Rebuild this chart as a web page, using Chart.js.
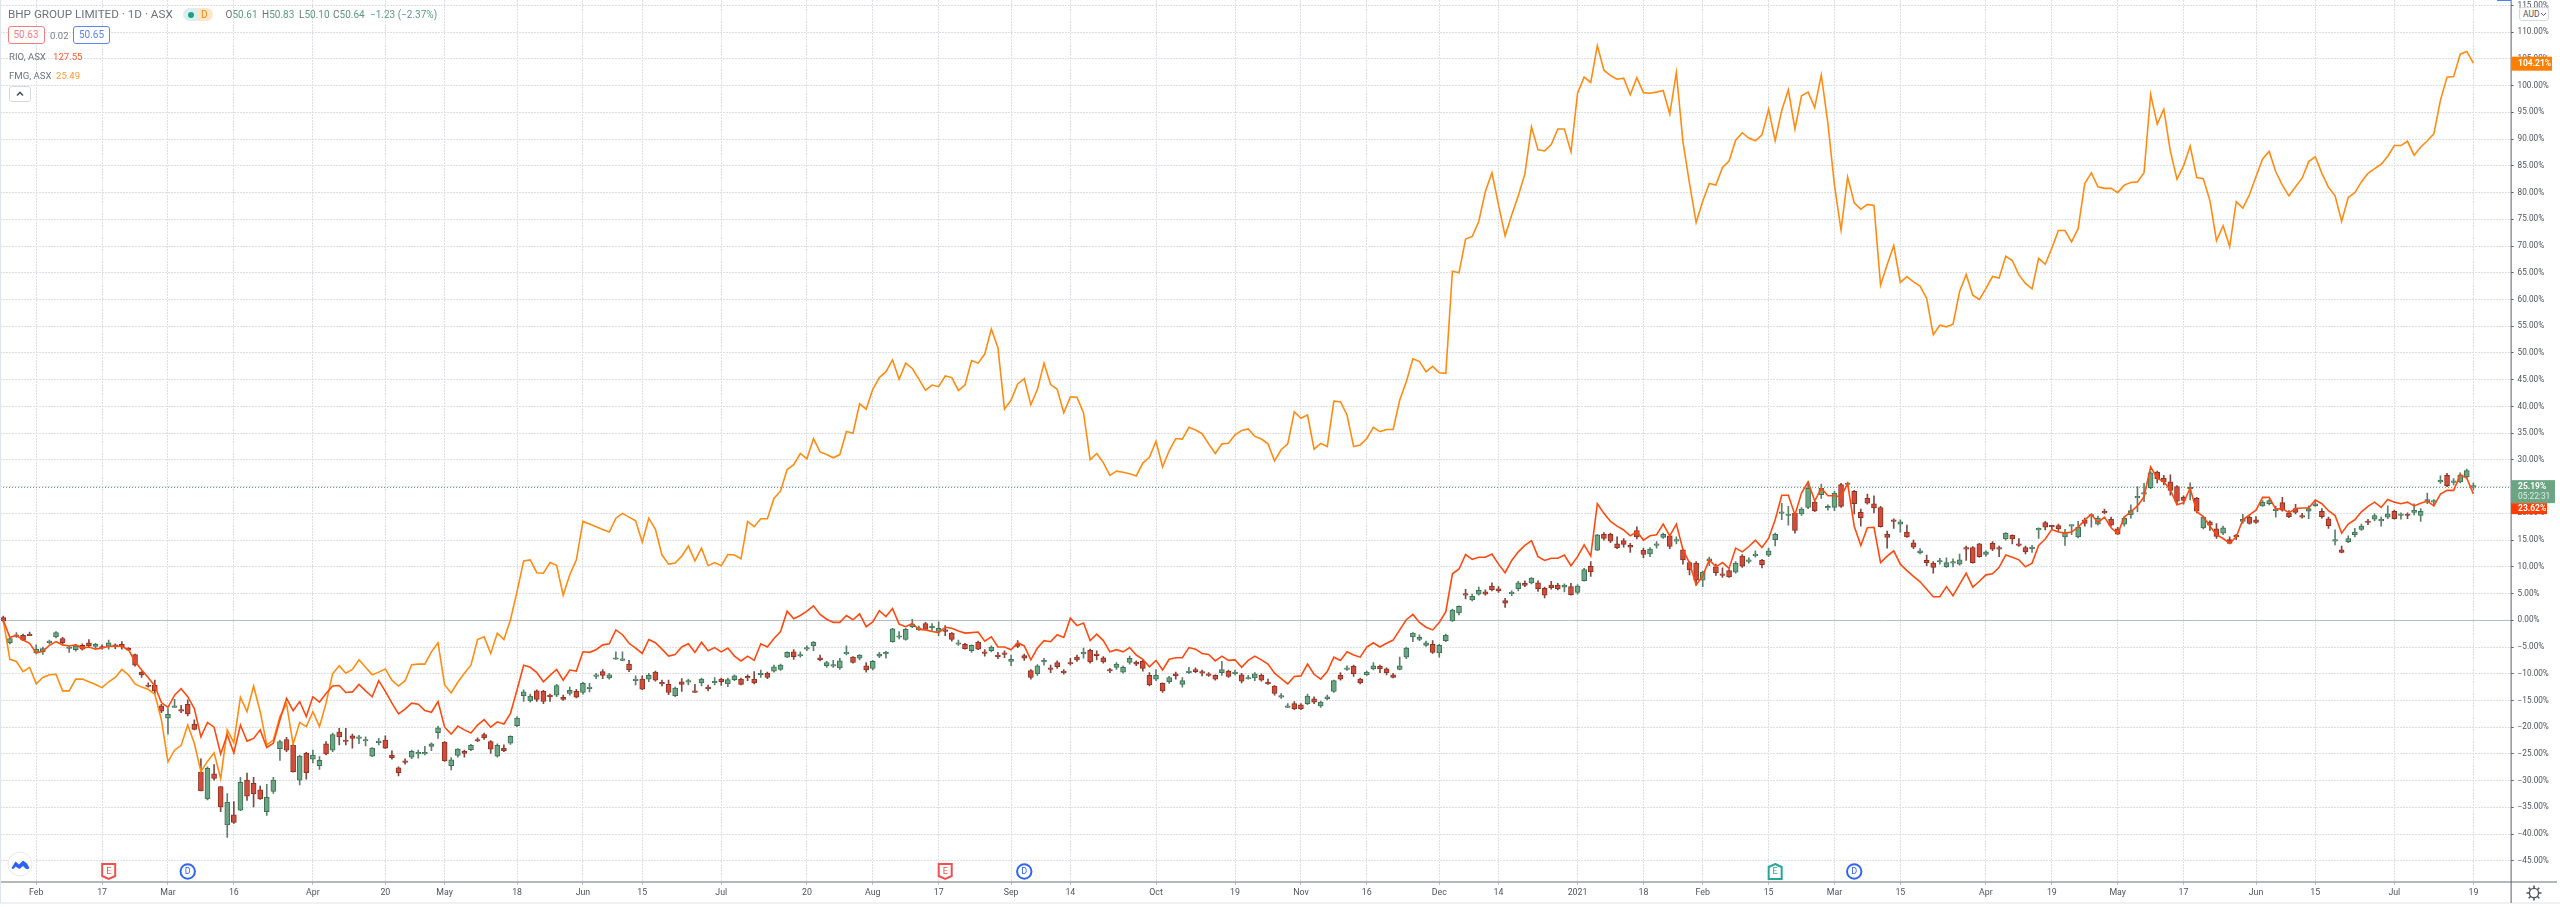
<!DOCTYPE html>
<html>
<head>
<meta charset="utf-8">
<title>BHP vs RIO vs FMG</title>
<script src="https://cdn.jsdelivr.net/npm/chart.js@4/dist/chart.umd.js"></script>
<style>
  html, body { margin: 0; padding: 0; background: #fff; }
  #wrap { position: relative; width: 2560px; height: 907px; overflow: hidden; font-family: Roboto, sans-serif; }
  canvas { position: absolute; left: 0; top: 0; }
  .t { position: absolute; white-space: nowrap; line-height: 1; }
  .box { position: absolute; box-sizing: border-box; height: 18px; width: 37px; border-radius: 3px; background: #fff; border: 1px solid; font-size: 10px; line-height: 16px; text-align: center; }
  .ohlc { top: 10px; font-size: 10px; color: #5a9a7e; }
  .ohlc b { font-weight: 400; color: #6f727c; }
</style>
</head>
<body>
<div id="wrap">
  <canvas id="chart" width="2560" height="907"></canvas>

  <div class="t" style="left:8px;top:9px;font-size:11.7px;color:#6f727c;">BHP GROUP LIMITED · 1D · ASX</div>
  <div style="position:absolute;left:183px;top:8px;width:15px;height:13px;background:#d8efeb;border-radius:7px 0 0 7px;"></div>
  <div style="position:absolute;left:198px;top:8px;width:15px;height:13px;background:#fde6c8;border-radius:0 7px 7px 0;"></div>
  <div style="position:absolute;left:188px;top:11.5px;width:6px;height:6px;background:#1f9d8b;border-radius:50%;"></div>
  <div class="t" style="left:201px;top:10px;font-size:10px;color:#f08c1c;">D</div>
  <div class="t ohlc" style="left:225.5px;"><b>O</b>50.61</div>
  <div class="t ohlc" style="left:262px;"><b>H</b>50.83</div>
  <div class="t ohlc" style="left:299px;"><b>L</b>50.10</div>
  <div class="t ohlc" style="left:333px;"><b>C</b>50.64</div>
  <div class="t ohlc" style="left:370px;">−1.23 (−2.37%)</div>

  <div class="box" style="left:7.5px;top:26px;border-color:#f77c80;color:#f77c80;">50.63</div>
  <div class="t" style="left:50px;top:31px;font-size:9.5px;color:#7a7d87;">0.02</div>
  <div class="box" style="left:73px;top:26px;border-color:#5b84f5;color:#5b84f5;">50.65</div>

  <div class="t" style="left:9px;top:52px;font-size:9.6px;color:#6f727c;">RIO, ASX</div>
  <div class="t" style="left:53px;top:52px;font-size:9.6px;color:#ff5a2a;">127.55</div>
  <div class="t" style="left:9px;top:70.5px;font-size:9.6px;color:#6f727c;">FMG, ASX</div>
  <div class="t" style="left:56px;top:70.5px;font-size:9.6px;color:#ff9a2e;">25.49</div>
  <div style="position:absolute;left:8.5px;top:86px;width:22px;height:16px;box-sizing:border-box;background:#fff;border:1px solid #d6d8de;border-radius:3px;">
    <svg width="20" height="14" style="position:absolute;left:0;top:0"><path d="M7 8.5 L10 5.5 L13 8.5" fill="none" stroke="#50535e" stroke-width="1.6"/></svg>
  </div>

  <div class="t" style="left:2519px;top:7px;width:30px;height:14px;box-sizing:border-box;background:#fff;border:1px solid #d6d8de;border-radius:3px;font-size:8.5px;line-height:12px;color:#50535e;padding-left:3px;">AUD
    <svg width="7" height="5" style="position:absolute;left:20px;top:4px"><path d="M1 1 L3.5 3.5 L6 1" fill="none" stroke="#50535e" stroke-width="1"/></svg>
  </div>

  <svg width="26" height="26" style="position:absolute;left:7px;top:851px">
    <circle cx="13" cy="13" r="12" fill="#fff" stroke="#e6e8ec"/>
    <path d="M4.5 17 L8.5 10.5 L12 13.5 L16 9.5 L20 12.5 L22.5 17 Q21 19 18.5 17.5 L16 15 L12.5 18 L8.5 15.5 L7 17.5 Q5.5 18.5 4.5 17 Z" fill="#2e62f0"/>
  </svg>
  <svg width="18" height="18" viewBox="0 0 18 18" style="position:absolute;left:2525px;top:884px">
    <circle cx="9" cy="9" r="4.6" fill="none" stroke="#50535e" stroke-width="1.4"/>
    <path d="M9 1.5V4 M9 14V16.5 M1.5 9H4 M14 9H16.5 M3.7 3.7L5.5 5.5 M12.5 12.5L14.3 14.3 M14.3 3.7L12.5 5.5 M5.5 12.5L3.7 14.3" stroke="#50535e" stroke-width="1.6"/>
  </svg>
</div>

<script>
// bar index of each date label on the time axis
const tickBars = [5,15,25,35,47,58,67,78,88,97,109,122,132,142,153,162,175,187,197,207,218,227,239,249,258,268,278,288,301,311,321,331,342,351,363,375];
const tickNames = ["Feb","17","Mar","16","Apr","20","May","18","Jun","15","Jul","20","Aug","17","Sep","14","Oct","19","Nov","16","Dec","14","2021","18","Feb","15","Mar","15","Apr","19","May","17","Jun","15","Jul","19"];

// everything below is percent change from the first bar
const bhpOpen = [
  0.5,-4.2,-3,-2.8,-2.6,-6.1,-5.9,-4.2,-3.1,-3.4,
  -5.2,-5.5,-4.7,-4.2,-4.9,-4.9,-4.9,-4.6,-4.5,-5.2,
  -6.4,-9.7,-12.1,-12.1,-16,-18.3,-16.1,-16.7,-15.7,-19.4,
  -28.4,-33.4,-28.7,-31.1,-38.3,-36.4,-35.5,-29.9,-30.5,-31.7,
  -35.8,-32,-24,-22.3,-23.4,-29.9,-24.9,-26,-27.2,-23.1,
  -24.3,-20.9,-22.4,-21.6,-22.1,-22.4,-25.4,-22.9,-22.4,-25.2,
  -27.6,-26.3,-25.6,-25,-24.9,-23.6,-21,-22.8,-27.2,-25.3,
  -24.5,-24.2,-22.3,-21.4,-22.7,-25.4,-23.9,-23,-19.7,-14.1,
  -15.1,-13.2,-13.3,-14,-14,-14.4,-13.7,-13.3,-13.5,-12.8,
  -10.4,-9.6,-10.8,-7.2,-7.5,-8.2,-11.2,-11,-11,-9.7,
  -11.6,-12,-14.1,-11.5,-11.5,-13.2,-11.7,-12.5,-11.5,-11,
  -11.9,-11.1,-11,-10.5,-11,-10,-9.9,-9.5,-9.2,-6.9,
  -5.9,-6.5,-5.4,-4.8,-7,-8.5,-8.5,-8.9,-6.2,-6.9,
  -7.1,-8.5,-9,-6.7,-6.3,-4,-3.1,-3.6,-1.2,-1.8,
  -0.6,-1.4,-2.1,-1.8,-2.4,-4.3,-4.5,-5.7,-4.1,-5.9,
  -5.7,-6.5,-6.1,-7.7,-4.4,-6.6,-9.4,-10,-7.7,-8.9,
  -7.9,-9.5,-7.9,-6.9,-6.2,-5.6,-6.3,-7,-9.2,-8.8,
  -9.7,-7.9,-7.8,-7.7,-10.3,-11,-11.8,-11.5,-10,-12,
  -9.7,-9.2,-9.6,-10,-10.3,-9.8,-9.5,-10,-10.2,-10.8,
  -10.8,-10.3,-11.6,-12.3,-14.2,-16.1,-15.6,-15.8,-15.6,-14.7,
  -16,-14.7,-13.3,-10.3,-9.1,-8.6,-11,-10.2,-9.1,-8.6,
  -9.1,-10.2,-9.2,-6.9,-3.1,-3.6,-4.7,-4.5,-6.1,-3.8,
  -0.1,1.4,4.9,3.8,4.9,5.3,6.4,5.9,3.7,5,
  5.9,6.9,7,7,6,6.6,6.6,6.2,6.3,5.2,
  7.4,10.1,13.1,16.1,16.1,14.3,14.9,14,16.8,13.1,
  12.4,14,15.5,15.8,14.8,13.2,10.8,10.7,7.5,11.1,
  10,8.7,9.3,9,12,11,12.1,11.2,12.2,15.1,
  20,19.6,20,19.9,21.1,22.1,23.5,21,21.1,25.4,
  25.4,24.1,20.2,22.8,21.8,21.1,16.1,18.8,18,16.5,
  14.5,12.6,11.2,10.7,10.9,10,10.7,10.5,13.6,13.6,
  14.3,12.3,14.4,13.5,15.2,15.9,14.3,13.6,13.4,16.9,
  18.3,17.6,17.7,15.6,17.6,15.6,18.8,19.5,18,20.3,
  18.9,17.1,18,19.7,22.9,23.6,24.8,27.7,26.6,25.9,
  25,23,24.6,22.8,17.3,18.4,17.1,16.3,15.1,15.9,
  18.5,19.3,18.8,21.4,21.8,20.5,22,20,20.9,19.5,
  20.4,21.4,20.4,19,14.8,13.2,14.7,16,17,18.5,
  18.9,18.6,19.3,20.4,19.6,19.8,20.2,19.6,22.1,22.1,
  25.9,27.1,25.8,25.9,26.8,24.9
];
const bhpClose = [
  -0.1,-3.4,-2.7,-3.7,-2.7,-5.4,-5.3,-3.9,-2.3,-4.2,
  -5,-4.8,-5.4,-4.8,-4.5,-5,-4.2,-5,-5,-5.6,
  -8.4,-10.2,-12.3,-13.2,-17,-17.6,-16,-16.8,-17.5,-20.4,
  -31.9,-27.7,-29.6,-34.9,-34,-37.8,-30.3,-32.9,-32.5,-33.4,
  -33.1,-29.9,-22.7,-24.3,-28.3,-25.4,-28.5,-25.2,-26.2,-25,
  -21.4,-21.8,-22.6,-22.1,-21.8,-22.3,-23.9,-22.6,-23.9,-25.7,
  -28.5,-26.5,-24.5,-24.7,-24.7,-23.1,-20.1,-26.3,-26.1,-24.1,
  -24.9,-23.4,-22.4,-22,-24.1,-23.4,-24.4,-21.7,-18.3,-13.4,
  -14.2,-14.8,-15.2,-14.2,-12.2,-14.8,-13.1,-14.4,-11.8,-12.5,
  -10.2,-10.3,-10.2,-7,-7.2,-9.3,-11,-12.9,-10.3,-11.2,
  -11.8,-13.5,-12.7,-12,-11.3,-13.3,-11,-12.7,-11.4,-11.5,
  -11.1,-10.4,-12,-10.8,-11.7,-9.9,-10.7,-8.7,-8.4,-6,
  -6.8,-6.4,-5.1,-4.1,-7.4,-7.9,-8.3,-7.6,-6,-7.9,
  -6.5,-9.3,-7.7,-6.3,-6,-1.6,-2.9,-1.7,-0.7,-1.4,
  -1.7,-1.1,-1.5,-2.1,-3.6,-4.2,-5.3,-4.7,-5.4,-6,
  -5,-6.8,-6.4,-7.3,-4.9,-7.1,-10.7,-8.5,-7.5,-9,
  -8.7,-9.7,-8.1,-7.4,-6,-7.8,-6.6,-7.8,-9.4,-8.2,
  -8.8,-7.1,-8.2,-9,-12.1,-10.3,-13.2,-10.7,-10.4,-11.3,
  -9.5,-9.6,-9.9,-10.3,-11,-9.2,-10.5,-9.7,-11.4,-10.7,
  -10,-11.2,-11.8,-13.7,-14.1,-16,-16.6,-16.6,-14.2,-15.3,
  -15.3,-14.3,-11.3,-11,-8.9,-10,-11.7,-9.7,-8.5,-9.1,
  -9.8,-10.7,-8.5,-5.2,-2.4,-3.2,-4.2,-6,-4.7,-2.8,
  1.9,2.6,4.7,4.5,5.6,4.9,5.7,5.5,3.2,5.1,
  7,6.5,7.9,5.9,4.7,6.1,5.9,6.6,4.8,6.4,
  9.5,9.1,16,15.3,14.8,13.6,14.2,13.7,15.6,12.3,
  13.3,14.3,16.1,13.8,15.1,11.3,9.4,7.5,9,11.5,
  8.9,8.4,8.1,10.7,10.1,11.3,12.3,10.4,13,16.1,
  20.1,19.8,16.8,20.8,24.7,20.5,24.7,21.3,23.8,21.3,
  25.6,21.8,19.2,21.9,21,17.5,15.5,18.5,18.4,15.6,
  13.7,13,10.8,9.9,11.1,10.8,10.9,11.3,13.3,10.8,
  11.9,12.8,13.3,13.3,16.3,15.2,14,12.8,13.7,17,
  17.4,17.5,17.1,16.5,17.7,17.4,18.1,19.6,19.1,20.1,
  17.8,16.1,19.1,20.5,23.1,23.8,27.6,26.5,25.9,24.3,
  22.3,22.4,24.8,20.4,19.3,17.8,15.7,17.3,14.4,15.6,
  18.9,18.1,18.3,22.1,22.4,20.7,20.6,19.4,20.2,19.3,
  20.9,21.8,19.4,17.7,15,12.7,15.3,16.5,17.6,18.3,
  19.6,18.8,19.9,19,19.9,19.6,20.6,20.4,22.6,22.3,
  26.1,25.2,26,27.2,28,25.19
];
const bhpHigh = [
  0.8,-3.3,-2.3,-2.6,-2.2,-4.6,-5,-3.7,-2.1,-3.2,
  -4.8,-4.5,-4.4,-3.6,-4.3,-4.6,-3.7,-4.4,-4,-5.1,
  -6.3,-9.6,-11.7,-11.2,-15.7,-16.5,-14.8,-15.9,-14.9,-18.6,
  -25.9,-27.4,-27,-31.1,-32.4,-33.9,-29.4,-28.6,-29.4,-31,
  -30.7,-29.4,-22.4,-21.9,-23.2,-25.2,-24.7,-24.3,-25.5,-22.7,
  -21.1,-20.2,-20.2,-21.3,-21.5,-21.8,-23.8,-22.1,-21.6,-24.4,
  -27.4,-25.9,-24.3,-24.3,-23.6,-22.9,-19.8,-22.7,-25.7,-24,
  -24.3,-23.2,-22,-21.1,-22.5,-23.1,-23.3,-21.6,-18,-13,
  -13.8,-13,-13.1,-13.8,-12,-14,-12.5,-12.9,-11.6,-11.8,
  -9.9,-9.2,-9.9,-5.9,-5.9,-7.5,-10.4,-10.4,-9.9,-9.5,
  -11.2,-11.2,-12.5,-10.9,-11,-12,-10.8,-12.1,-10.7,-10.8,
  -10.8,-10.2,-10.8,-10.2,-9.6,-9.3,-9.7,-8.4,-8.2,-5.9,
  -5.5,-5.9,-4.8,-4,-6.5,-7.7,-7.5,-7.1,-4.8,-6.8,
  -6.4,-7.9,-7.5,-6,-5.8,-1.5,-2.1,-1.5,0.2,-1.1,
  -0.4,-0.6,-0.3,-1,-2.3,-3.7,-4.3,-4.6,-3.9,-5.5,
  -4.8,-6,-5.7,-6.5,-3.8,-6.3,-9.2,-8.3,-7.1,-8.4,
  -7.6,-9.2,-7.1,-6.5,-5.2,-5.4,-5.7,-6.8,-9,-7.9,
  -8.5,-6.7,-7.6,-7.4,-9.8,-9.2,-11.7,-10.5,-9.7,-10.7,
  -8.8,-8.9,-9.3,-9.8,-10.2,-7.7,-9.3,-9.3,-9.9,-10.3,
  -9.8,-10,-11,-12.2,-13.7,-15.6,-15.2,-15.6,-13.8,-14.3,
  -15.1,-14,-11.2,-9.8,-8.5,-8.4,-10.8,-9.5,-7.9,-8.4,
  -8.9,-9.9,-6.9,-5,-2.3,-2.7,-3.9,-3.8,-4.5,-2.6,
  2.1,2.7,5.8,4.9,6.2,5.7,7,6.3,4.1,5.5,
  7.3,7.4,8,7.4,6.2,7.3,6.9,6.8,6.9,6.7,
  9.7,11,16.1,16.4,16.3,15.6,15.3,14.4,17.5,13.5,
  13.6,14.7,16.3,16,15.6,13.3,11,11,9.2,11.8,
  10.5,9.8,9.5,11,12.3,11.7,13,11.4,13.5,16.3,
  21.9,21.3,20.2,21.1,25.9,22.3,25.5,21.6,24.1,25.6,
  25.8,24.3,20.8,23.6,23.3,21.3,16.7,19,18.8,17.8,
  15,13.4,12.2,11,11.6,11.7,11.5,12.4,13.9,13.8,
  14.4,13,14.7,13.9,16.4,16,15.3,13.9,14,17.3,
  18.5,17.8,18,17,17.8,18.5,19.1,19.9,19.5,20.8,
  19.3,17.4,19.4,21.6,25,25.6,27.8,27.9,27.1,27.2,
  25.2,23.3,25.7,23,19.5,18.6,18.1,17.6,15.6,16.1,
  19.8,19.6,19.4,22.4,22.6,21.3,23,20.5,21.7,20,
  21.4,22.5,20.9,19.3,16.9,13.9,15.8,17.2,18,18.9,
  19.9,19.3,21.4,20.6,20.1,20.1,21.8,20.9,23.8,22.6,
  27,27.5,26.5,27.6,28.3,25.7
];
const bhpLow = [
  -0.3,-4.4,-3.2,-3.8,-2.9,-6.3,-6.4,-4.4,-3.3,-4.4,
  -6,-5.8,-5.6,-5,-5.1,-5.4,-5.4,-5.3,-5.4,-5.7,
  -8.6,-10.7,-12.5,-13.8,-17.3,-21.3,-16.3,-17.3,-17.9,-20.5,
  -31.9,-33.6,-29.9,-35.8,-40.6,-38,-35.6,-33.7,-34.9,-33.5,
  -36.5,-32.4,-26.2,-24.6,-28.4,-30.8,-29.7,-26.7,-27.9,-25.2,
  -24.6,-23.3,-23.3,-23.9,-23.1,-23.5,-25.5,-23.3,-24,-26,
  -29.1,-26.9,-25.9,-25.8,-25.2,-24.4,-22.1,-26.4,-28,-25.6,
  -25.6,-24.4,-22.7,-22.3,-24.9,-25.6,-24.6,-23.2,-19.9,-15.2,
  -15.3,-15.2,-15.6,-15.2,-14.3,-15,-14,-14.5,-13.8,-13.4,
  -10.9,-10.9,-11,-7.3,-7.6,-9.6,-12.1,-13,-11.5,-11.4,
  -12.3,-13.9,-14.3,-13.3,-12.1,-13.5,-12.3,-13.2,-12.1,-12.2,
  -12.4,-11.3,-12.1,-11.3,-11.9,-10.7,-10.9,-9.7,-9.4,-7,
  -7.3,-6.9,-5.7,-5.7,-7.6,-8.8,-8.8,-9.2,-6.5,-8,
  -7.4,-9.7,-9.3,-7,-7.1,-4.1,-3.5,-3.7,-1.4,-1.9,
  -1.8,-1.9,-2.9,-2.9,-3.9,-4.7,-5.4,-6,-5.5,-6.7,
  -5.9,-7.2,-7,-8.5,-5.1,-7.5,-11,-10.3,-8.4,-9.8,
  -9,-10.1,-8.4,-7.7,-7.1,-8,-7.4,-8,-9.8,-9.2,
  -9.9,-8.2,-8.5,-9.5,-12.3,-11.3,-13.5,-11.8,-11,-12.5,
  -10,-9.8,-10.4,-10.5,-11.2,-10.3,-10.7,-10.2,-11.7,-11,
  -11.3,-11.4,-12,-14,-14.6,-16.3,-16.7,-16.7,-15.8,-15.6,
  -16.3,-14.9,-13.5,-11.2,-9.4,-10.5,-11.9,-10.3,-9.3,-9.8,
  -10.2,-10.8,-9.3,-7.2,-4,-3.8,-4.9,-6.2,-6.9,-4,
  -0.2,1,4,3.6,4.7,4.7,5.5,5.2,2.4,4.6,
  5.5,6.3,6.8,5.4,4.2,5.8,5.7,5.3,4.7,4.9,
  7.3,8.2,13,15,14.5,13.4,13.7,12.7,15.2,11.7,
  11.9,13.5,15.3,13.4,14.3,10.5,8.5,6.6,6.3,10.2,
  8.4,8,8,8.8,9.9,10.7,11.8,9.8,11.9,13.9,
  18.8,17.8,16.3,19.6,20.9,20.3,22.8,20.6,20.5,21.1,
  25,19.9,17.6,21.7,20.1,17.4,13.5,17.2,16.5,15.5,
  13.4,12.4,10.2,8.8,10.5,9.9,10,10.3,11.2,10.7,
  11.8,12,13,11.9,15,14.3,13.8,12.4,12.7,15.3,
  16.9,17,16.6,14,16,15.4,17.6,17.4,17.8,19.9,
  17.6,16,17.6,19.1,20.3,22.2,24.6,25.7,25.3,23.4,
  21.6,21.7,22.5,20.1,17.1,16.8,15.3,16,14.3,15.1,
  18.1,18,18.1,21.3,21.6,19.3,20.4,19.2,19.9,19.1,
  19,21.3,19.1,17.2,14.1,12.6,14.5,15.6,16.8,17.9,
  18.6,17.6,19,18.9,18.9,19,19.7,18.5,21.8,21.4,
  25.6,25,25.3,25.7,26.6,24.4
];
const rioSeries = [
  0,-3.2,-2.8,-3.7,-4.3,-6.1,-5.8,-4.7,-4,-4.6,
  -4.8,-4.6,-5.2,-5,-5.4,-5.2,-4.9,-4.8,-4.9,-5.5,
  -7.7,-9.3,-10.7,-12.3,-15.4,-16.3,-14,-12.8,-14.3,-16.5,
  -21.8,-19.1,-20,-25,-21.4,-24.8,-19.6,-22.6,-22.1,-20.5,
  -23.8,-23,-18.6,-14.6,-16.9,-15.2,-18,-14.3,-15.3,-13.7,
  -12.3,-12.2,-13.5,-13.4,-12,-13.2,-14.3,-11.3,-13.3,-15.5,
  -17.5,-16.6,-15.5,-15.7,-16.9,-17.2,-15.2,-20,-21.3,-19.8,
  -20.5,-21.1,-19.6,-18.6,-20,-19,-19.4,-17.4,-13,-8.4,
  -8.8,-9.8,-11.5,-10.3,-9.2,-11.2,-9.3,-9.5,-5.9,-6,
  -5.5,-4.6,-4.4,-1.8,-2.7,-4.3,-5.2,-6.2,-3.6,-4.2,
  -5.4,-6.7,-6.4,-5,-4.4,-6,-4.1,-5.7,-5.1,-5.9,
  -5.2,-6.7,-7.6,-6.7,-7.5,-4.4,-5,-3.4,-2.1,1.7,
  0.3,0.9,1.7,2.7,1.1,0.2,-0.4,-0.4,0.9,0.1,
  1.2,-1.2,-0.3,1.8,0.7,2.2,-0.7,-1.2,-0.6,-1.7,
  -1.8,-2.1,-2.3,-1.3,-1.5,-2,-2.4,-2.3,-2.2,-3.9,
  -3.1,-5,-5,-5.5,-4.2,-4.8,-7.4,-5.2,-3.8,-4,
  -2.7,-3.2,0.4,-1,-0.5,-3.8,-2.6,-3.8,-5.9,-5.5,
  -5.9,-5.1,-6.5,-7.3,-8.7,-7.5,-9.3,-7.3,-7,-7,
  -5.1,-5.4,-6.2,-6.4,-7.6,-6.7,-7.5,-7.4,-8.8,-7.5,
  -6.7,-7.4,-8.2,-9.9,-10.9,-11.9,-10.5,-10.4,-8.2,-10.1,
  -11,-9.6,-6.9,-7.5,-5.9,-6.5,-6.9,-5,-4.2,-5,
  -4.3,-3.7,-1.8,0.1,1.1,-0.4,-1.3,-1.8,-0.4,1.6,
  8.7,9.6,12.3,11.4,11.8,11.8,12.4,10.5,8.9,11.2,
  12.8,14,14.9,11.9,11.2,11.6,11.6,12.2,10.2,11.9,
  14.1,12,21.8,20,18.5,17.6,16.9,15.8,16.6,15,
  15.8,16,18,15.8,18,13.2,10.7,6.6,8.3,11.3,
  10,10.8,9.7,13.5,12.8,13.8,15,13.6,15.3,18.8,
  23.4,23.4,19.7,23.8,25.9,22.3,24.7,23.3,23.3,23.1,
  25.6,17.6,14,17.3,17.4,10.8,12,13,10.5,9.3,
  8.2,7.2,5.8,4.4,4.4,6.3,4.6,6.7,8.8,6.2,
  7.3,8.5,8.7,9.9,12.2,11.8,11.3,10,10.7,14,
  15.2,17,16.5,16.3,16.5,17.4,18.8,19.8,18.3,19.3,
  17.3,16.2,19.3,20.3,21.4,23.1,28.7,26.6,25.9,24.4,
  21.6,22,24.7,20.3,19.4,17.6,16,15.3,14.4,15.6,
  18.8,19.7,20.6,23,23,20.8,20.9,20.1,20.9,21,
  21,22.5,21.8,20.5,19.6,16.3,18,18.8,20.3,21.3,
  22.1,21.1,22.6,22.1,21.8,22.1,21.4,21.9,22.3,21.4,
  23.6,24.3,24.3,27.2,26.6,23.62
];
const fmgSeries = [
  0,-7.3,-7.7,-9.6,-8.8,-11.9,-10.7,-10.2,-10.1,-13.2,
  -13.2,-11,-11,-11.5,-12,-12.6,-11.5,-10.7,-9.2,-10.2,
  -11.9,-12.5,-12.9,-13.8,-18.6,-26.5,-24.3,-23.4,-19.6,-23,
  -28.3,-26.4,-24.8,-29.6,-20.5,-22.9,-14.4,-17.1,-12.3,-17.1,
  -23.3,-22.4,-18,-15.6,-23.2,-19.1,-19.9,-17.1,-19.9,-15.5,
  -10,-8.5,-9.9,-9.2,-7.4,-8.8,-10.2,-9.7,-9.1,-11.2,
  -12.3,-11.3,-8.3,-8.2,-8.2,-5.9,-4.2,-12.1,-13.6,-11.6,
  -9.9,-8.4,-3.6,-3.1,-6.2,-2.4,-3.6,0.1,5.4,11.1,
  11.3,8.9,8.8,10.8,10.3,4.7,8.5,11.3,18.5,18,
  17.5,17,16.5,19.1,20,19.3,18.6,14.6,19.1,17,
  12.2,10.5,10.7,12,13.9,11.1,13.5,10.2,10.8,10.2,
  12.3,12.2,11.5,18.5,17.5,19,19,22.8,24.2,28.2,
  29.1,31.2,30.2,34,31.5,31,30.4,31,35.3,35,
  40.5,39.5,43.2,45.4,46.5,48.7,45.1,48.1,47.1,45.1,
  43,44,43.7,45.7,45.4,43,44,48.6,48.1,49.8,
  54.5,51,39.5,41.2,44.2,45.2,40.3,43.2,48.1,44.1,
  43.2,38.8,41.8,41.7,38.8,30,31.2,29.5,27.1,27.9,
  27.7,27.4,27,29.4,30.5,33.5,28.7,31.7,34,33.9,
  36.1,35.6,34.9,33,31.2,33,33.1,34.7,35.5,35.8,
  34.4,33.9,33,29.8,31.9,33,39,37.8,38.4,32,
  33.1,32.5,41,40.9,38.4,32.5,32.8,34,36.1,35.3,
  35.7,35.7,41.2,44.6,48.9,48.4,46.5,47.5,46.3,46.2,
  65.3,65,71.3,71.8,74.6,80.2,83.7,77.7,71.9,75.8,
  79.4,83.5,92.3,88,87.8,89,91.9,91.9,87.6,98.6,
  101.6,100.6,107.5,102.9,101.9,101.2,101.4,98.3,101.5,98.7,
  98.6,98.8,99.1,94.7,102.5,89.5,81.7,74.4,78.4,81.7,
  81.4,84.7,85.9,89.8,91.2,90.2,89.7,90.8,95.6,89.7,
  95.4,99.2,91.9,98.1,98.8,95.9,102,93,81.4,73,
  82.9,78.1,76.9,77.8,77.6,62.7,66.5,70.1,63.2,64.3,
  63.3,62.5,60.2,53.4,55.2,54.9,55.4,61.5,64.7,60.8,
  60,62.1,64.3,64,68.1,67.3,64.6,63,62,67.7,
  66.6,69.6,72.9,72.9,70.8,73.3,81.7,83.7,81.1,80.8,
  80.8,80,81.4,81.9,82,83.7,98.4,92.8,95.6,87.7,
  82.5,85,88.7,82.8,82.6,78.5,71,73.8,69.9,78.3,
  77.1,79.6,83,86.3,87.7,83.9,81.4,79.4,81.1,82.7,
  85.8,86.7,83.6,81,79.4,74.6,79.1,80,82,83.6,
  84.5,85.3,86.8,88.8,88.8,89.6,87,88.5,89.7,91,
  97.3,101.6,101.7,105.9,106.4,104.21
];

// last-price tags on the right axis
const mainLast = 25.0;
const mainLastText = "25.19%";
const mainCountdown = "05:22:31";
const rioLastText = "23.62%";
const fmgLast = 104.21;
const fmgLastText = "104.21%";

// event flags under the candles
const earningsBars = [16, 143, 269];
const earningsUp = [false, false, true];
const dividendBars = [28, 155, 281];

const UP_FILL = "#6ba583", DOWN_FILL = "#d04d3c";
const UP_LINE = "#3c7355", DOWN_LINE = "#8e3324";
const UP_WICK = "#5f7f6e", DOWN_WICK = "#7d4a42";
const RIO_COLOR = "#ff4a0f", FMG_COLOR = "#ff8c12";
const GRID_COLOR = "#dddfe5";
const LABEL_COLOR = "#50535e";
const FONT = 'Roboto, sans-serif';

const isUp = bhpClose.map((c, i) => c >= bhpOpen[i]);

const candleWicks = bhpHigh.map((h, i) => ({ x: i, y: [bhpLow[i], h] }));
const candleBodies = bhpOpen.map((o, i) => ({ x: i, y: [o, bhpClose[i]] }));
const rioLine = rioSeries.map((v, i) => ({ x: i, y: v }));
const fmgLine = fmgSeries.map((v, i) => ({ x: i, y: v }));

function tag(ctx, top, h, w, color) {
  ctx.fillStyle = color;
  ctx.fillRect(2511, top, w, h);
}

const overlay = {
  id: "overlay",
  beforeDatasetsDraw(chart) {
    const { ctx, chartArea, scales: { y } } = chart;
    // dotted last-price line
    const py = Math.round(y.getPixelForValue(mainLast)) + 0.5;
    ctx.save();
    ctx.strokeStyle = "#6ba583";
    ctx.setLineDash([1, 2]);
    ctx.lineWidth = 1;
    ctx.beginPath();
    ctx.moveTo(chartArea.left, py);
    ctx.lineTo(chartArea.right, py);
    ctx.stroke();
    ctx.restore();
  },
  afterDraw(chart) {
    const { ctx, chartArea, scales: { x, y } } = chart;
    ctx.save();

    // frame lines
    ctx.fillStyle = "#a3a6af";
    ctx.fillRect(0, chartArea.bottom - 0.5, 2557, 1.6);
    ctx.fillStyle = "#e0e3eb";
    ctx.fillRect(0, 902.5, 2560, 1);
    ctx.fillStyle = "#dfe3f0";
    ctx.fillRect(0, 0, 1, 903);
    ctx.fillStyle = "#5d606b";
    ctx.fillRect(chartArea.right, 0, 1, 903);
    ctx.fillStyle = "#4f7df3";
    ctx.fillRect(2497, 0, 14, 1);

    // event flags
    ctx.textAlign = "center";
    ctx.textBaseline = "middle";
    earningsBars.forEach((bar, n) => {
      const cx = x.getPixelForValue(bar), up = earningsUp[n], c = up ? "#26a69a" : "#f2504d";
      ctx.beginPath();
      if (up) {
        ctx.moveTo(cx, 864); ctx.lineTo(cx + 6.5, 867); ctx.lineTo(cx + 6.5, 879);
        ctx.lineTo(cx - 6.5, 879); ctx.lineTo(cx - 6.5, 867);
      } else {
        ctx.moveTo(cx - 6.5, 864); ctx.lineTo(cx + 6.5, 864); ctx.lineTo(cx + 6.5, 876);
        ctx.lineTo(cx, 879); ctx.lineTo(cx - 6.5, 876);
      }
      ctx.closePath();
      ctx.fillStyle = "#fff";
      ctx.fill();
      ctx.strokeStyle = c;
      ctx.lineWidth = 2;
      ctx.stroke();
      ctx.fillStyle = c;
      ctx.font = "9px " + FONT;
      ctx.fillText("E", cx, 871.5);
    });
    dividendBars.forEach((bar) => {
      const cx = x.getPixelForValue(bar);
      ctx.beginPath();
      ctx.arc(cx, 871.5, 7.2, 0, Math.PI * 2);
      ctx.fillStyle = "#fff";
      ctx.fill();
      ctx.strokeStyle = "#2f66f0";
      ctx.lineWidth = 2;
      ctx.stroke();
      ctx.fillStyle = "#2f66f0";
      ctx.font = "9px " + FONT;
      ctx.fillText("D", cx, 871.5);
    });

    // price tags
    ctx.textAlign = "left";
    const labelX = 2518;
    const mainY = y.getPixelForValue(mainLast);
    tag(ctx, mainY - 6.5, 23, 44, "#6ba583");
    ctx.fillStyle = "#fff";
    ctx.font = "bold 8.5px " + FONT;
    ctx.fillText(mainLastText, labelX, mainY);
    ctx.fillStyle = "#dcebe3";
    ctx.font = "8.4px " + FONT;
    ctx.fillText(mainCountdown, labelX, mainY + 10);

    // rio tag would collide with the main one, so it stacks underneath
    tag(ctx, mainY + 16.5, 11, 36, "#ff3d00");
    ctx.fillStyle = "#fff";
    ctx.font = "bold 8.5px " + FONT;
    ctx.fillText(rioLastText, labelX, mainY + 22.5);

    const fmgY = y.getPixelForValue(fmgLast);
    tag(ctx, fmgY - 6.5, 14, 41, "#ff8000");
    ctx.fillStyle = "#fff";
    ctx.fillText(fmgLastText, labelX, fmgY + 0.5);
    ctx.restore();
  }
};

new Chart(document.getElementById("chart"), {
  type: "bar",
  data: {
    datasets: [
      { type: "line", label: "RIO", data: rioLine, borderColor: RIO_COLOR, borderWidth: 1.6, pointRadius: 0, tension: 0, order: 1 },
      { type: "line", label: "FMG", data: fmgLine, borderColor: FMG_COLOR, borderWidth: 1.6, pointRadius: 0, tension: 0, order: 2 },
      {
        label: "BHP body", data: candleBodies, order: 3, barThickness: 5, grouped: false, minBarLength: 1.5,
        backgroundColor: isUp.map(u => u ? UP_FILL : DOWN_FILL),
        borderColor: isUp.map(u => u ? UP_LINE : DOWN_LINE),
        borderWidth: 1, borderSkipped: false
      },
      {
        label: "BHP wick", data: candleWicks, order: 4, barThickness: 1, grouped: false,
        backgroundColor: isUp.map(u => u ? UP_WICK : DOWN_WICK),
        borderWidth: 0
      }
    ]
  },
  options: {
    responsive: false,
    animation: false,
    devicePixelRatio: 1,
    layout: { padding: 0 },
    plugins: { legend: { display: false }, tooltip: { enabled: false } },
    scales: {
      x: {
        type: "linear",
        offset: false,
        min: -0.5,
        max: 380.65,
        afterBuildTicks: (scale) => { scale.ticks = tickBars.map(v => ({ value: v })); },
        afterFit: (scale) => { scale.height = 25.3; scale.paddingLeft = 0; scale.paddingRight = 0; },
        grid: { offset: false, color: GRID_COLOR, tickColor: "#b2b5be", tickLength: 3, lineWidth: 1 },
        border: { display: false, dash: [2, 1] },
        ticks: {
          autoSkip: false, maxRotation: 0, padding: 3,
          color: LABEL_COLOR, font: { family: FONT, size: 8.8 },
          callback: (v, i) => tickNames[i]
        }
      },
      y: {
        position: "right",
        min: -48.9,
        max: 116.03,
        afterFit: (scale) => { scale.width = 49.4; scale.paddingTop = 0; scale.paddingBottom = 0; },
        grid: {
          color: (c) => c.tick && c.tick.value === 0 ? "#b8bcc8" : GRID_COLOR,
          tickColor: "#5d606b", tickLength: 3
        },
        border: { display: false, dash: (c) => c.tick && c.tick.value === 0 ? [] : [2, 1] },
        ticks: {
          stepSize: 5, includeBounds: false, autoSkip: false, padding: 4,
          color: LABEL_COLOR, font: { family: FONT, size: 8.2 },
          callback: (v) => (v < 0 ? "\u2212" : "") + Math.abs(v).toFixed(2) + "%"
        }
      }
    }
  },
  plugins: [overlay]
});
</script>
</body>
</html>
